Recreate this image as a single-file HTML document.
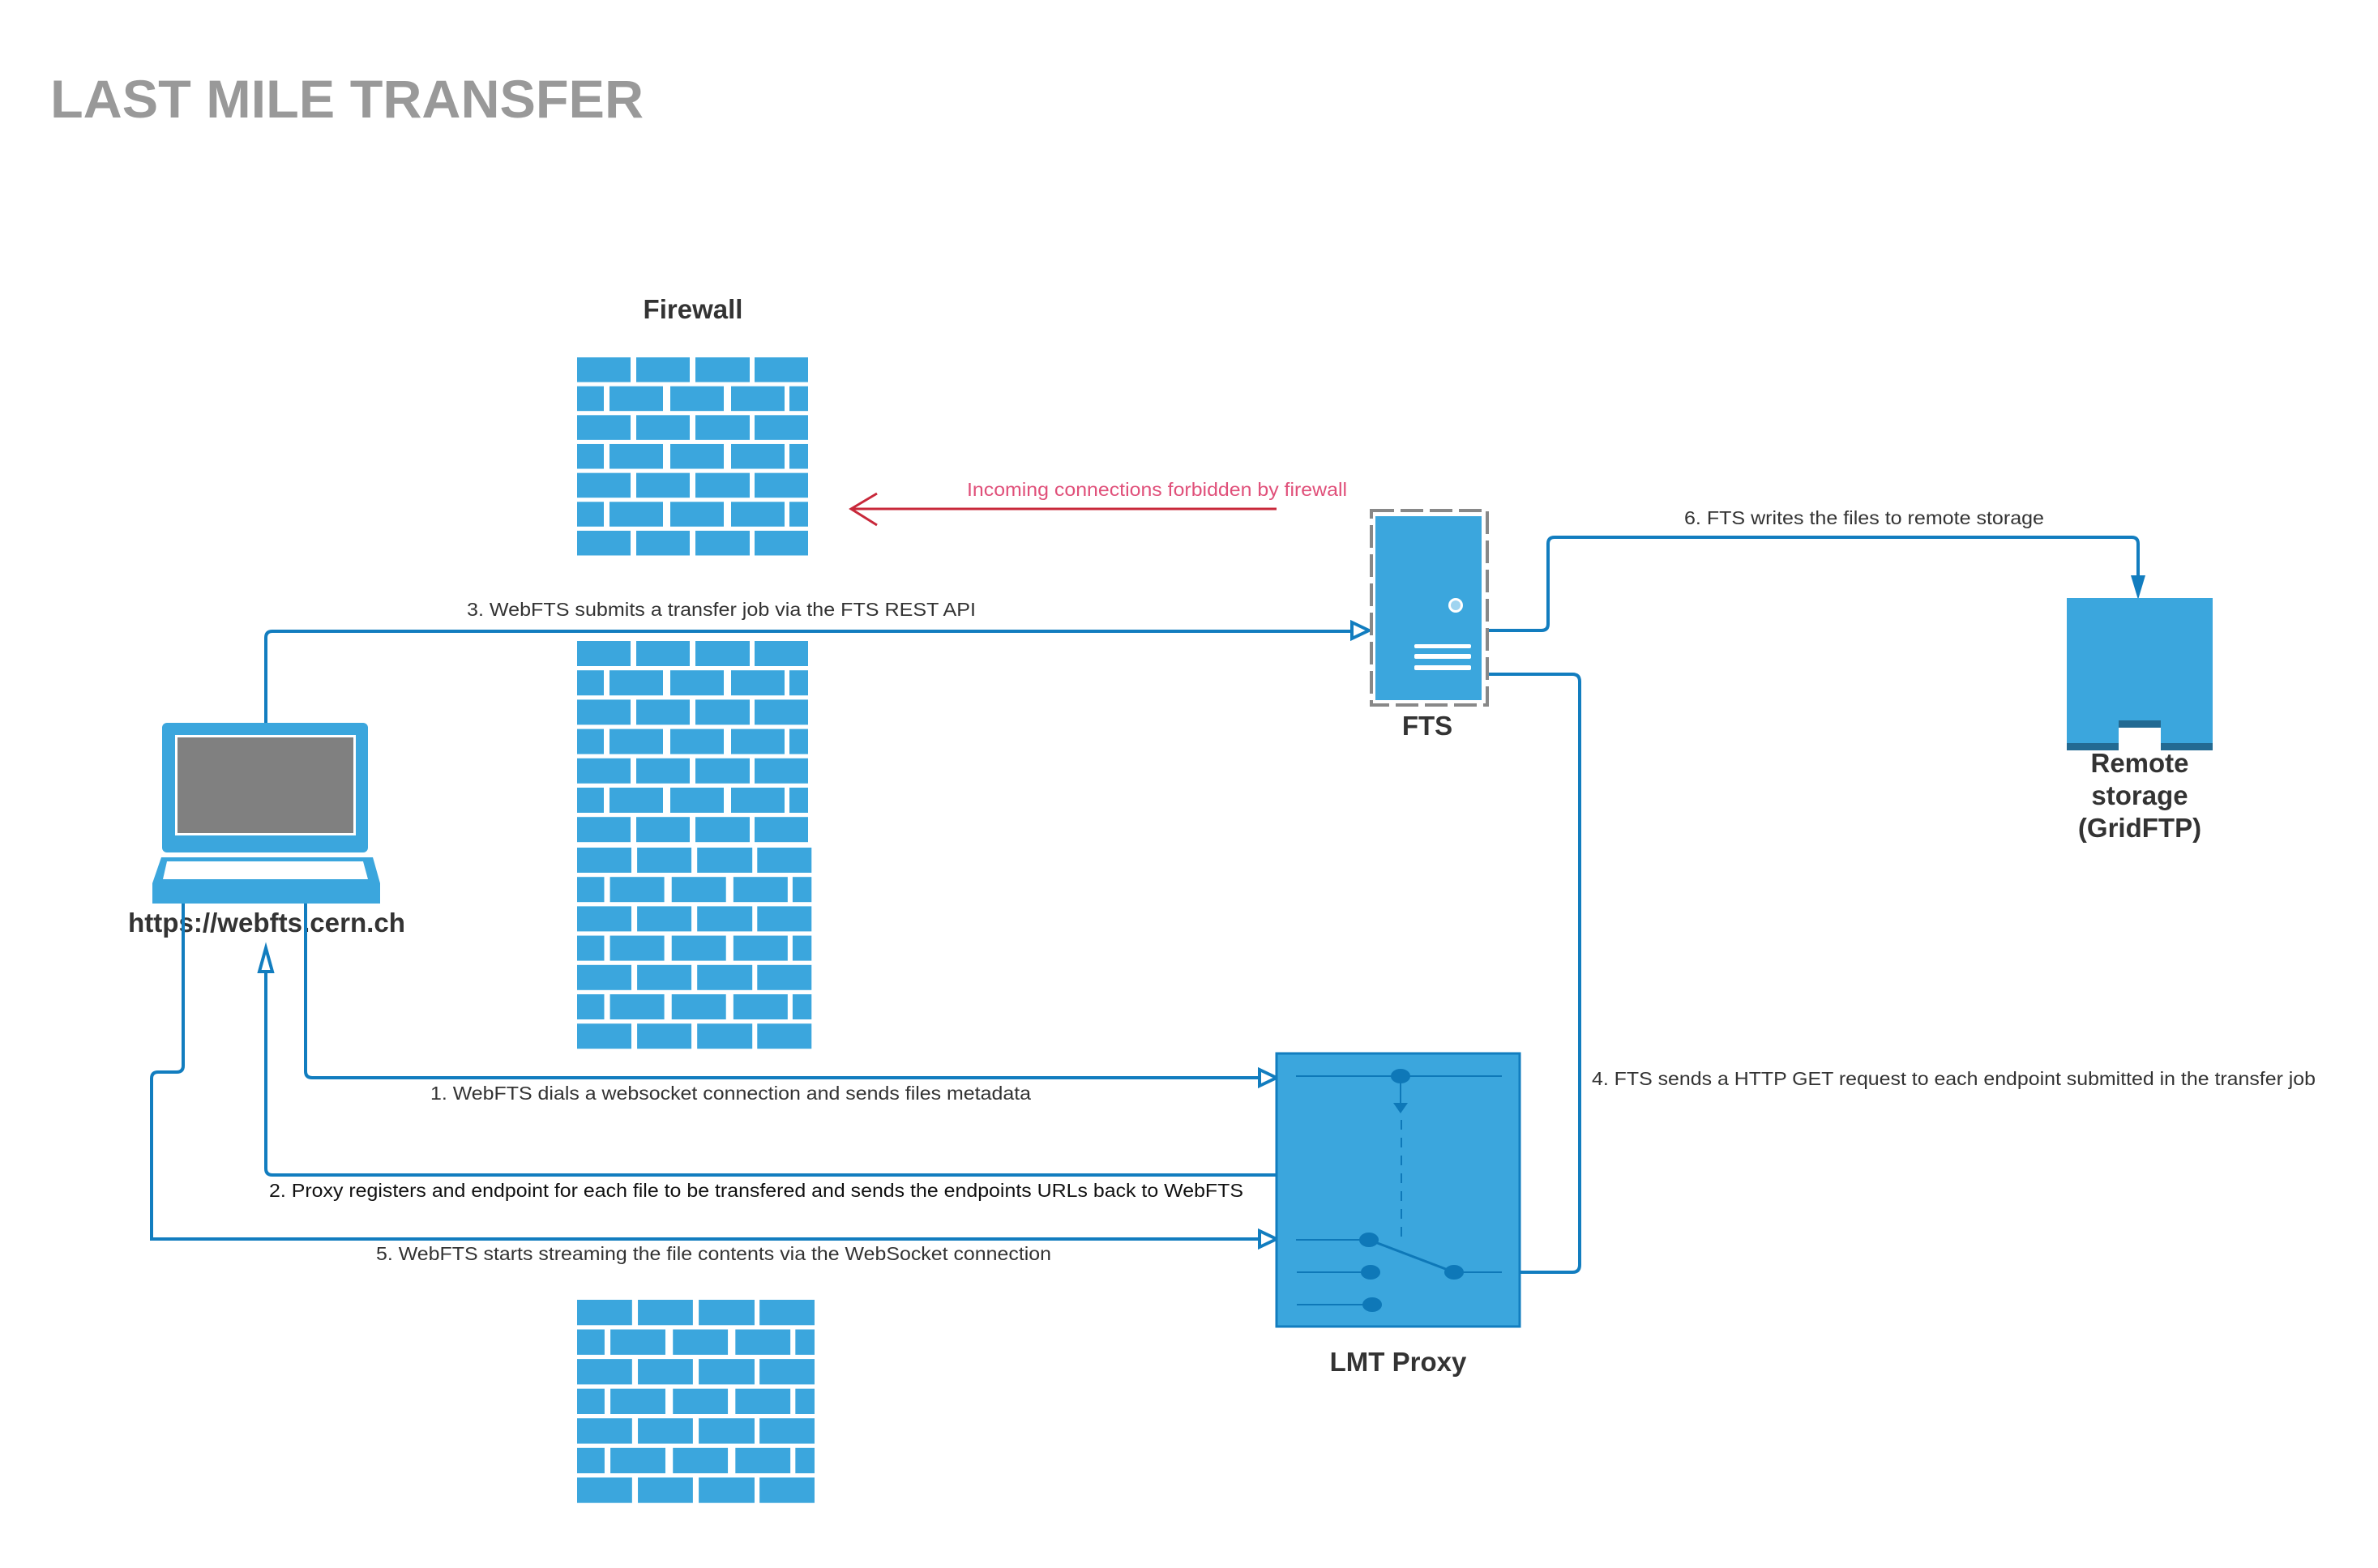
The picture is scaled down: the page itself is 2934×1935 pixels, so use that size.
<!DOCTYPE html>
<html><head><meta charset="utf-8"><style>
html,body{margin:0;padding:0;background:#fff}
svg{display:block}
text{font-family:"Liberation Sans",Arial,sans-serif}
</style></head><body>
<svg width="2934" height="1935" viewBox="0 0 2934 1935" xmlns="http://www.w3.org/2000/svg">
<defs>
<g id="rA" fill="#3ba6dd"><rect x="0" y="0" width="66" height="31"/><rect x="73" y="0" width="66" height="31"/><rect x="146" y="0" width="67" height="31"/><rect x="219" y="0" width="66" height="31"/></g>
<g id="rB" fill="#3ba6dd"><rect x="0" y="0" width="33" height="31"/><rect x="40" y="0" width="66" height="31"/><rect x="115" y="0" width="66" height="31"/><rect x="190" y="0" width="66" height="31"/><rect x="262" y="0" width="23" height="31"/></g>
<g id="fw"><use href="#rA" y="0"/><use href="#rB" y="36.2"/><use href="#rA" y="72.4"/><use href="#rB" y="108.6"/><use href="#rA" y="144.8"/><use href="#rB" y="181"/><use href="#rA" y="217.2"/></g>
</defs>

<text x="62" y="145" font-size="66" font-weight="bold" fill="#999" textLength="732" lengthAdjust="spacingAndGlyphs">LAST MILE TRANSFER</text>

<text x="855" y="393" font-size="33" font-weight="bold" fill="#333" text-anchor="middle">Firewall</text>

<use href="#fw" transform="translate(712,441) scale(1,0.985)"/>
<use href="#fw" transform="translate(712,791)"/>
<use href="#fw" transform="translate(712,1046) scale(1.015,1)"/>
<use href="#fw" transform="translate(712,1604) scale(1.028,1.01)"/>

<!-- red arrow -->
<line x1="1050" y1="628" x2="1575" y2="628" stroke="#c8283a" stroke-width="3"/>
<polyline points="1082,609 1050,628 1082,648" fill="none" stroke="#c8283a" stroke-width="3"/>
<text x="1193" y="612" font-size="23" fill="#e0507a" textLength="469" lengthAdjust="spacingAndGlyphs">Incoming connections forbidden by firewall</text>

<!-- connectors -->
<g fill="none" stroke="#127dbf" stroke-width="4">
<path d="M328,892 V787 Q328,779 336,779 H1668"/>
<path d="M1836,778 H1902 Q1910,778 1910,770 V671 Q1910,663 1918,663 H2630 Q2638,663 2638,671 V712"/>
<path d="M1836,832 H1940 Q1949,832 1949,841 V1561 Q1949,1570 1940,1570 H1876"/>
<path d="M377,1115 V1322 Q377,1330 385,1330 H1553"/>
<path d="M1575,1450 H336 Q328,1450 328,1442 V1199"/>
<path d="M226,1115 V1315 Q226,1323 218,1323 H195 Q187,1323 187,1331 V1529 H1553"/>
</g>
<g fill="#fff" stroke="#127dbf" stroke-width="4">
<polygon points="1689,778 1668,768 1668,788"/>
<polygon points="1575,1330 1554,1320 1554,1340"/>
<polygon points="1575,1529 1554,1519 1554,1539"/>
<polygon points="328,1170 320,1199 336,1199"/>
</g>
<polygon points="2638,740 2629,710 2647,710" fill="#127dbf"/>

<text x="576" y="760" font-size="23" fill="#333" textLength="628" lengthAdjust="spacingAndGlyphs">3. WebFTS submits a transfer job via the FTS REST API</text>
<text x="2078" y="647" font-size="23" fill="#333" textLength="444" lengthAdjust="spacingAndGlyphs">6. FTS writes the files to remote storage</text>
<text x="1964" y="1339" font-size="23" fill="#333" textLength="893" lengthAdjust="spacingAndGlyphs">4. FTS sends a HTTP GET request to each endpoint submitted in the transfer job</text>
<text x="531" y="1357" font-size="23" fill="#333" textLength="741" lengthAdjust="spacingAndGlyphs">1. WebFTS dials a websocket connection and sends files metadata</text>
<text x="332" y="1477" font-size="23" fill="#111" textLength="1202" lengthAdjust="spacingAndGlyphs">2. Proxy registers and endpoint for each file to be transfered and sends the endpoints URLs back to WebFTS</text>
<text x="464" y="1555" font-size="23" fill="#333" textLength="833" lengthAdjust="spacingAndGlyphs">5. WebFTS starts streaming the file contents via the WebSocket connection</text>

<!-- laptop -->
<rect x="200" y="892" width="254" height="160" rx="6" fill="#3ba6dd"/>
<rect x="216" y="907" width="223" height="124" fill="#fff"/>
<rect x="219" y="910" width="217" height="118" fill="#808080"/>
<polygon points="199,1058 460,1058 469,1090 469,1115 188,1115 188,1090" fill="#3ba6dd"/>
<polygon points="206,1063 448,1063 454,1085 201,1085" fill="#fff"/>
<text x="329" y="1150" font-size="33" font-weight="bold" fill="#333" text-anchor="middle" textLength="342" lengthAdjust="spacingAndGlyphs">https://webfts.cern.ch</text>
<line x1="226" y1="1115" x2="226" y2="1160" stroke="#127dbf" stroke-width="4"/>
<line x1="377" y1="1115" x2="377" y2="1160" stroke="#127dbf" stroke-width="4"/>

<!-- FTS server -->
<rect x="1692" y="630" width="143" height="240" fill="none" stroke="#888" stroke-width="4" stroke-dasharray="28,8"/>
<rect x="1697" y="637" width="131" height="227" fill="#3ba6dd"/>
<circle cx="1796" cy="747" r="9" fill="#fff"/>
<circle cx="1796" cy="747" r="6" fill="#9fd4f0"/>
<rect x="1745" y="795" width="70" height="5" rx="2" fill="#fff"/>
<rect x="1745" y="807" width="70" height="6" rx="2" fill="#fff"/>
<rect x="1745" y="821" width="70" height="6" rx="2" fill="#fff"/>
<text x="1761" y="907" font-size="33" font-weight="bold" fill="#333" text-anchor="middle">FTS</text>

<!-- Remote storage -->
<rect x="2550" y="738" width="180" height="188" fill="#3ba6dd"/>
<rect x="2550" y="917" width="180" height="9" fill="#236a92"/>
<rect x="2614" y="889" width="52" height="9" fill="#236a92"/>
<rect x="2614" y="898" width="52" height="28" fill="#fff"/>
<g font-size="33" font-weight="bold" fill="#333" text-anchor="middle">
<text x="2640" y="953">Remote</text>
<text x="2640" y="993">storage</text>
<text x="2640" y="1033">(GridFTP)</text>
</g>

<!-- LMT Proxy -->
<rect x="1575" y="1300" width="300" height="337" fill="#3ba6dd" stroke="#127dbf" stroke-width="3"/>
<g stroke="#0e78b8" stroke-width="2" fill="none">
<line x1="1599" y1="1328" x2="1853" y2="1328"/>
<line x1="1728" y1="1328" x2="1728" y2="1362"/>
<line x1="1729" y1="1382" x2="1729" y2="1532" stroke-dasharray="12,10"/>
<line x1="1599" y1="1530" x2="1689" y2="1530"/>
<line x1="1600" y1="1570" x2="1691" y2="1570"/>
<line x1="1600" y1="1610" x2="1693" y2="1610"/>
<line x1="1689" y1="1530" x2="1794" y2="1570" stroke-width="3"/>
<line x1="1794" y1="1570" x2="1853" y2="1570"/>
</g>
<g fill="#0e78b8">
<ellipse cx="1728" cy="1328" rx="12" ry="9"/>
<polygon points="1719,1361 1737,1361 1728,1374"/>
<ellipse cx="1689" cy="1530" rx="12" ry="9"/>
<ellipse cx="1691" cy="1570" rx="12" ry="9"/>
<ellipse cx="1693" cy="1610" rx="12" ry="9"/>
<ellipse cx="1794" cy="1570" rx="12" ry="9"/>
</g>
<text x="1725" y="1692" font-size="33" font-weight="bold" fill="#333" text-anchor="middle">LMT Proxy</text>
</svg>
</body></html>
